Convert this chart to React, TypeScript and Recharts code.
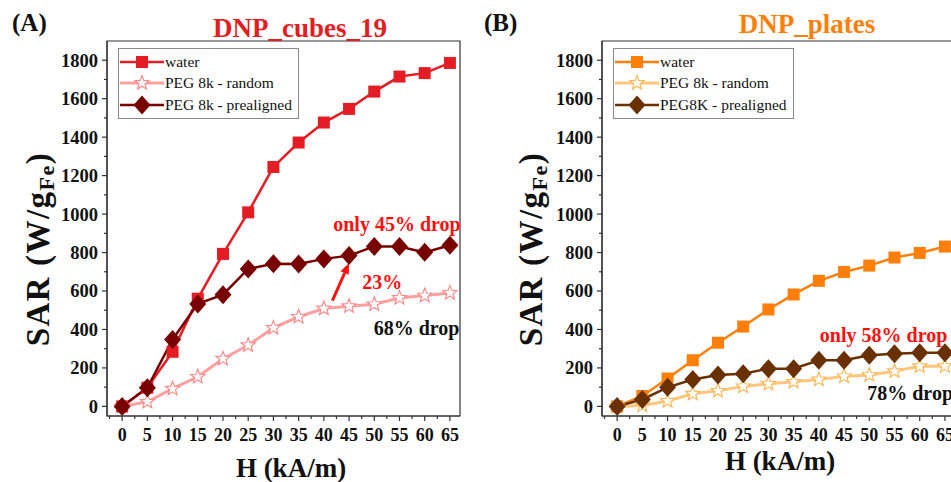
import React from 'react';
import { LineChart, Line, XAxis, YAxis, Legend, ReferenceArea, ReferenceDot, ReferenceLine } from 'recharts';

// field amplitude H (kA/m)
const fields = [0, 5, 10, 15, 20, 25, 30, 35, 40, 45, 50, 55, 60, 65];

// SAR (W/g Fe) for the cube-shaped particles
const cubesWater = [0, 97, 284, 560, 793, 1009, 1245, 1372, 1476, 1547, 1637, 1715, 1733, 1786];
const cubesRandom = [0, 24, 92, 154, 248, 318, 408, 466, 509, 521, 531, 564, 576, 590];
const cubesPrealigned = [0, 97, 348, 533, 581, 715, 742, 740, 767, 784, 832, 831, 801, 838];

// SAR (W/g Fe) for the plate-shaped particles
const platesWater = [0, 54, 145, 240, 331, 415, 504, 582, 653, 699, 732, 774, 798, 831];
const platesRandom = [0, 5, 28, 66, 81, 104, 118, 128, 140, 156, 163, 183, 209, 209];
const platesPrealigned = [0, 36, 99, 140, 163, 170, 196, 196, 240, 240, 266, 274, 279, 279];

const xTicks = [-2.5, 0, 2.5, 5, 7.5, 10, 12.5, 15, 17.5, 20, 22.5, 25, 27.5, 30, 32.5, 35, 37.5, 40, 42.5, 45, 47.5, 50, 52.5, 55, 57.5, 60, 62.5, 65];
const yTicks = [0, 100, 200, 300, 400, 500, 600, 700, 800, 900, 1000, 1100, 1200, 1300, 1400, 1500, 1600, 1700, 1800];

const X_DOMAIN: [number, number] = [-3, 67];
const Y_DOMAIN: [number, number] = [-50, 1900];

const FONT = '"Liberation Serif", "Times New Roman", serif';
const AXIS = '#333';
const PLOT_LEFT = 107;
const PLOT_TOP = 41;
const PLOT_H = 375;
const PLOT_BOTTOM = PLOT_TOP + PLOT_H;
const CHART_W = 470;
const CHART_H = 482;

type Marker = 'square' | 'star' | 'diamond';

function markerShape(kind: Marker, cx: number, cy: number, color: string, key?: any) {
  if (kind === 'square') {
    return <rect key={key} x={cx - 6} y={cy - 6} width={12} height={12} fill={color} />;
  }
  if (kind === 'diamond') {
    const pts = `${cx},${cy - 9.5} ${cx + 8.5},${cy} ${cx},${cy + 9.5} ${cx - 8.5},${cy}`;
    return <polygon key={key} points={pts} fill={color} />;
  }
  const pts: string[] = [];
  for (let i = 0; i < 10; i++) {
    const r = i % 2 === 0 ? 7.5 : 3.2;
    const a = -Math.PI / 2 + (i * Math.PI) / 5;
    pts.push(`${cx + r * Math.cos(a)},${cy + r * Math.sin(a)}`);
  }
  return <polygon key={key} points={pts.join(' ')} fill="#fff" stroke={color} strokeWidth={1.1} />;
}

const dotRenderer = (kind: Marker, color: string) => (props: any) => {
  const { cx, cy, index } = props;
  if (cx == null || cy == null) return <g key={index} />;
  return markerShape(kind, cx, cy, color, index);
};

function YTick(props: any) {
  const { y, payload } = props;
  const v = payload.value;
  const major = v % 200 === 0;
  return (
    <g>
      <line x1={PLOT_LEFT - (major ? 5 : 3)} x2={PLOT_LEFT} y1={y} y2={y} stroke={AXIS} strokeWidth={1.2} />
      {major && (
        <text x={PLOT_LEFT - 9} y={y} dy="0.35em" textAnchor="end" fontFamily={FONT} fontWeight="bold" fontSize={18.5} fill="#111">
          {v}
        </text>
      )}
    </g>
  );
}

function XTick(props: any) {
  const { x, payload } = props;
  const v = payload.value;
  const major = v % 5 === 0;
  return (
    <g>
      <line x1={x} x2={x} y1={PLOT_BOTTOM} y2={PLOT_BOTTOM + (major ? 5 : 3)} stroke={AXIS} strokeWidth={1.2} />
      {major && (
        <text x={x} y={PLOT_BOTTOM + 25} textAnchor="middle" fontFamily={FONT} fontWeight="bold" fontSize={18} fill="#111">
          {v}
        </text>
      )}
    </g>
  );
}

interface SeriesDef {
  key: string;
  name: string;
  color: string;
  lineColor: string;
  width: number;
  marker: Marker;
}

function LegendBox({ series }: { series: SeriesDef[] }) {
  return (
    <div style={{ border: '1px solid #8a8a8a', background: '#fff', padding: '2px 6px 2px 1px', fontFamily: FONT, fontSize: 15.5, color: '#111' }}>
      {series.map((s) => (
        <div key={s.key} style={{ display: 'flex', alignItems: 'center', height: 21.5 }}>
          <svg width={44} height={20} style={{ display: 'block' }}>
            <line x1={0} x2={44} y1={10} y2={10} stroke={s.lineColor} strokeWidth={s.width} />
            {markerShape(s.marker, 22, 10, s.color)}
          </svg>
          <span style={{ marginLeft: 1, whiteSpace: 'nowrap' }}>{s.name}</span>
        </div>
      ))}
    </div>
  );
}

function ArrowShape(props: any) {
  const { x1, y1, x2, y2 } = props;
  if (x1 == null) return null;
  const dx = x2 - x1;
  const dy = y2 - y1;
  const len = Math.sqrt(dx * dx + dy * dy);
  const ux = dx / len;
  const uy = dy / len;
  const head = 11;
  const bx = x2 - ux * head;
  const by = y2 - uy * head;
  const px = -uy * 4.5;
  const py = ux * 4.5;
  return (
    <g>
      <line x1={x1} y1={y1} x2={bx} y2={by} stroke="#ff1010" strokeWidth={3} />
      <polygon points={`${x2},${y2} ${bx + px},${by + py} ${bx - px},${by - py}`} fill="#ff1010" />
    </g>
  );
}

interface Note {
  x: number;
  y: number;
  text: string;
  color: string;
  anchor: 'start' | 'middle' | 'end';
}

function SarPanel({ water, random, prealigned, series, notes, arrow }: {
  water: number[];
  random: number[];
  prealigned: number[];
  series: SeriesDef[];
  notes: Note[];
  arrow?: { x: number; y: number }[];
}) {
  const data = fields.map((h, i) => ({ h, water: water[i], random: random[i], prealigned: prealigned[i] }));
  const byKey = (k: string) => series.find((s) => s.key === k)!;
  const order = ['random', 'water', 'prealigned'];
  return (
    <LineChart width={CHART_W} height={CHART_H} data={data} margin={{ top: PLOT_TOP, right: 10, bottom: 0, left: 0 }}>
      <XAxis
        dataKey="h"
        type="number"
        domain={X_DOMAIN}
        ticks={xTicks}
        interval={0}
        height={CHART_H - PLOT_BOTTOM}
        tickLine={false}
        tick={<XTick />}
        axisLine={{ stroke: AXIS, strokeWidth: 1.2 }}
      />
      <YAxis
        type="number"
        domain={Y_DOMAIN}
        ticks={yTicks}
        interval={0}
        width={PLOT_LEFT}
        tickLine={false}
        tick={<YTick />}
        axisLine={{ stroke: AXIS, strokeWidth: 1.2 }}
      />
      <ReferenceArea x1={X_DOMAIN[0]} x2={X_DOMAIN[1]} y1={Y_DOMAIN[0]} y2={Y_DOMAIN[1]} fill="none" stroke={AXIS} strokeWidth={1.2} fillOpacity={0} />
      {order.map((k) => {
        const s = byKey(k);
        return (
          <Line
            key={k}
            type="linear"
            dataKey={k}
            name={s.name}
            stroke={s.lineColor}
            strokeWidth={s.width}
            dot={dotRenderer(s.marker, s.color)}
            activeDot={false}
            isAnimationActive={false}
          />
        );
      })}
      {arrow && <ReferenceLine segment={arrow} shape={<ArrowShape />} ifOverflow="visible" />}
      {notes.map((n) => (
        <ReferenceDot
          key={n.text}
          x={n.x}
          y={n.y}
          r={0}
          ifOverflow="visible"
          shape={(p: any) => (
            <text x={p.cx} y={p.cy} dy="0.35em" textAnchor={n.anchor} fontFamily={FONT} fontWeight="bold" fontSize={20} fill={n.color}>
              {n.text}
            </text>
          )}
        />
      ))}
      <Legend
        layout="vertical"
        align="center"
        verticalAlign="middle"
        wrapperStyle={{ left: 118, top: 48, width: 'auto' }}
        content={() => <LegendBox series={series} />}
      />
    </LineChart>
  );
}

const cubesSeries: SeriesDef[] = [
  { key: 'water', name: 'water', color: '#e41d25', lineColor: '#e41d25', width: 2.5, marker: 'square' },
  { key: 'random', name: 'PEG 8k - random', color: '#ff8585', lineColor: '#ffa0a0', width: 3, marker: 'star' },
  { key: 'prealigned', name: 'PEG 8k - prealigned', color: '#780000', lineColor: '#780000', width: 2.5, marker: 'diamond' },
];

const platesSeries: SeriesDef[] = [
  { key: 'water', name: 'water', color: '#ff7f0a', lineColor: '#ff7f0a', width: 2.5, marker: 'square' },
  { key: 'random', name: 'PEG 8k - random', color: '#ffb44e', lineColor: '#ffc77e', width: 3, marker: 'star' },
  { key: 'prealigned', name: 'PEG8K - prealigned', color: '#693000', lineColor: '#693000', width: 2.5, marker: 'diamond' },
];

const cubesNotes: Note[] = [
  { x: 54.5, y: 948, text: 'only 45% drop', color: '#ff1010', anchor: 'middle' },
  { x: 51.6, y: 648, text: '23%', color: '#ff1010', anchor: 'middle' },
  { x: 58.4, y: 409, text: '68% drop', color: '#111', anchor: 'middle' },
];

const platesNotes: Note[] = [
  { x: 40.2, y: 371, text: 'only 58% drop', color: '#ff1010', anchor: 'start' },
  { x: 49.6, y: 71, text: '78% drop', color: '#111', anchor: 'start' },
];

const cubesArrow = [
  { x: 41.7, y: 550 },
  { x: 45, y: 746 },
];

function SarTitle({ x, y }: { x: number; y: number }) {
  return (
    <text transform={`translate(${x},${y}) rotate(-90)`} textAnchor="middle" dominantBaseline="central" fontFamily={FONT} fontWeight="bold" fontSize={33} letterSpacing={1.5} fill="#111">
      <tspan>SAR (W/g</tspan>
      <tspan fontSize={22} dy={8}>Fe</tspan>
      <tspan dy={-8}>)</tspan>
    </text>
  );
}

export default function App() {
  return (
    <div style={{ position: 'fixed', left: 0, top: 0, width: 951, height: 482, overflow: 'hidden', background: '#fff' }}>
      <div style={{ position: 'absolute', left: 0, top: 0 }}>
        <SarPanel water={cubesWater} random={cubesRandom} prealigned={cubesPrealigned} series={cubesSeries} notes={cubesNotes} arrow={cubesArrow} />
      </div>
      <div style={{ position: 'absolute', left: 495, top: 0 }}>
        <SarPanel water={platesWater} random={platesRandom} prealigned={platesPrealigned} series={platesSeries} notes={platesNotes} />
      </div>
      <svg width={951} height={482} style={{ position: 'absolute', left: 0, top: 0, pointerEvents: 'none' }}>
        <text x={12} y={31} fontFamily={FONT} fontWeight="bold" fontSize={25} fill="#111">(A)</text>
        <text x={300} y={37} textAnchor="middle" fontFamily={FONT} fontWeight="bold" fontSize={27} fill="#e41d25">DNP_cubes_19</text>
        <text x={484} y={31} fontFamily={FONT} fontWeight="bold" fontSize={25} fill="#111">(B)</text>
        <text x={807} y={33} textAnchor="middle" fontFamily={FONT} fontWeight="bold" fontSize={27} fill="#ff7f0a">DNP_plates</text>
        <SarTitle x={38} y={249} />
        <SarTitle x={531} y={249} />
        <text x={291} y={477} textAnchor="middle" fontFamily={FONT} fontWeight="bold" fontSize={27} fill="#111">H (kA/m)</text>
        <text x={780} y={470} textAnchor="middle" fontFamily={FONT} fontWeight="bold" fontSize={27} fill="#111">H (kA/m)</text>
      </svg>
    </div>
  );
}
